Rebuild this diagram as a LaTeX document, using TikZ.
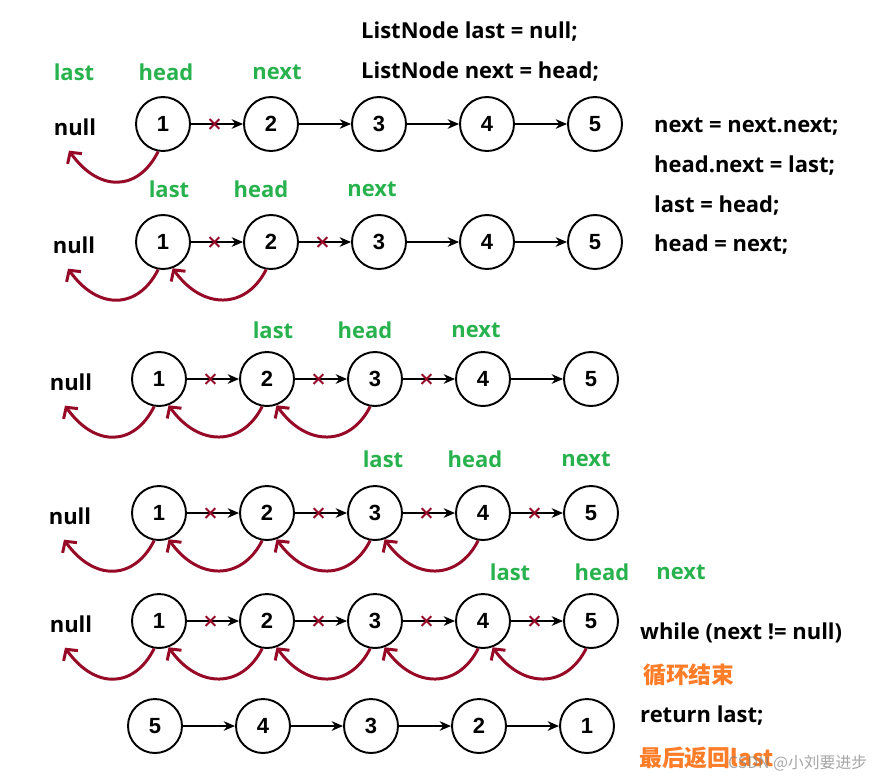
\documentclass[tikz,border=0pt]{standalone}
\usepackage{fontspec}
\setmainfont{Open Sans}
\newfontfamily\cjk{Noto Sans CJK SC}
\newfontfamily\numfont{Liberation Sans}
\usetikzlibrary{arrows.meta,shapes.misc}
\definecolor{vargreen}{RGB}{40,178,78}
\definecolor{backred}{RGB}{150,10,40}
\definecolor{noteorange}{RGB}{255,125,40}
\tikzset{
  listnode/.style={circle,draw,line width=1.1pt,minimum size=1.08cm,inner sep=0pt,
    font=\numfont\bfseries\fontsize{12.5}{14}\selectfont},
  link/.style={-{Stealth[length=6.5pt,width=5.5pt]},line width=0.8pt},
  cut/.style={cross out,draw=backred,line width=1.1pt,minimum size=4.4pt,inner sep=0pt},
  back/.style={-{Straight Barb[length=4.5pt,width=10pt]},draw=backred,line width=1.7pt},
  varname/.style={text=vargreen,font=\bfseries\fontsize{12.5}{14}\selectfont},
  nulltext/.style={font=\bfseries\fontsize{12.5}{14}\selectfont},
  code/.style={anchor=west,font=\bfseries\fontsize{12.5}{14}\selectfont},
  note/.style={anchor=west,text=noteorange,font=\cjk\bfseries\fontsize{13}{15}\selectfont},
}
\begin{document}
\begin{tikzpicture}[x=0.02cm,y=-0.02cm]
  \useasboundingbox (0,0) rectangle (874,778);
  % the five lists while reversing
  \foreach \r/\y/\x in {1/124/163, 2/242/163, 3/379/159, 4/513/159, 5/621/159} {
    \foreach \k in {1,...,5}
      \node[listnode] (n\r\k) at ({\x+108*(\k-1)},\y) {\k};
    \foreach \k/\j in {1/2, 2/3, 3/4, 4/5}
      \draw[link] (n\r\k) -- (n\r\j);
  }
  \node[nulltext] (null1) at (75,127) {null};
  \node[nulltext] (null2) at (74,245) {null};
  \node[nulltext] (null3) at (71,382) {null};
  \node[nulltext] (null4) at (70,516) {null};
  \node[nulltext] (null5) at (71,624) {null};
  % pointers
  \node[varname] (last1) at (74,72) {last};
  \node[varname] (head1) at (166,72) {head};
  \node[varname] (next1) at (277,72) {next};
  \node[varname] (last2) at (169,189) {last};
  \node[varname] (head2) at (261,189) {head};
  \node[varname] (next2) at (372,189) {next};
  \node[varname] (last3) at (273,330) {last};
  \node[varname] (head3) at (365,330) {head};
  \node[varname] (next3) at (476,330) {next};
  \node[varname] (last4) at (383,459) {last};
  \node[varname] (head4) at (475,459) {head};
  \node[varname] (next4) at (586,459) {next};
  \node[varname] (last5) at (510,572) {last};
  \node[varname] (head5) at (602,572) {head};
  \node[varname] (next5) at (681,572) {next};
  % cut links
  \foreach \r/\k/\j in {1/1/2, 2/1/2, 2/2/3, 3/1/2, 3/2/3, 3/3/4,
      4/1/2, 4/2/3, 4/3/4, 4/4/5, 5/1/2, 5/2/3, 5/3/4, 5/4/5}
    \path (n\r\k) -- node[pos=0.45,cut] {} (n\r\j);
  % new links back
  \foreach \r in {1,...,5}
    \draw[back] (n\r1.-100) .. controls +(-20,40) and +(30,42) .. ([shift={(-6,9)}]null\r.south);
  \foreach \r/\k/\j in {2/2/1, 3/2/1, 3/3/2, 4/2/1, 4/3/2, 4/4/3,
      5/2/1, 5/3/2, 5/4/3, 5/5/4}
    \draw[back] (n\r\k.-100) .. controls +(-20,40) and +(30,42) .. (n\r\j.-70);
  % reversed list
  \foreach \k/\v in {1/5, 2/4, 3/3, 4/2, 5/1}
    \node[listnode] (m\k) at ({155+108*(\k-1)},726) {\v};
  \draw[link] (m1) -- (m2);
  \draw[link] (m2) -- (m3);
  \draw[link] (m3) -- (m4);
  \draw[link] (m4) -- (m5);
  % code
  \node[code] (init1) at (355,32) {ListNode last = null;};
  \node[code] (init2) at (355,72) {ListNode next = head;};
  \node[code] (step1) at (648,127) {next = next.next;};
  \node[code] (step2) at (648,166) {head.next = last;};
  \node[code] (step3) at (648,206) {last = head;};
  \node[code] (step4) at (648,245) {head = next;};
  \node[code] (loop) at (634,633) {while (next != null)};
  \node[note] (stop) at (637,675) {循环结束};
  \node[code] (ret) at (634,716) {return last;};
  \node[note] (result) at (633,758) {最后返回last};
  \node[anchor=west,text=gray,opacity=0.7,font=\cjk\fontsize{9}{11}\selectfont] (mark) at (722,763) {CSDN @小刘要进步};
\end{tikzpicture}
\end{document}
